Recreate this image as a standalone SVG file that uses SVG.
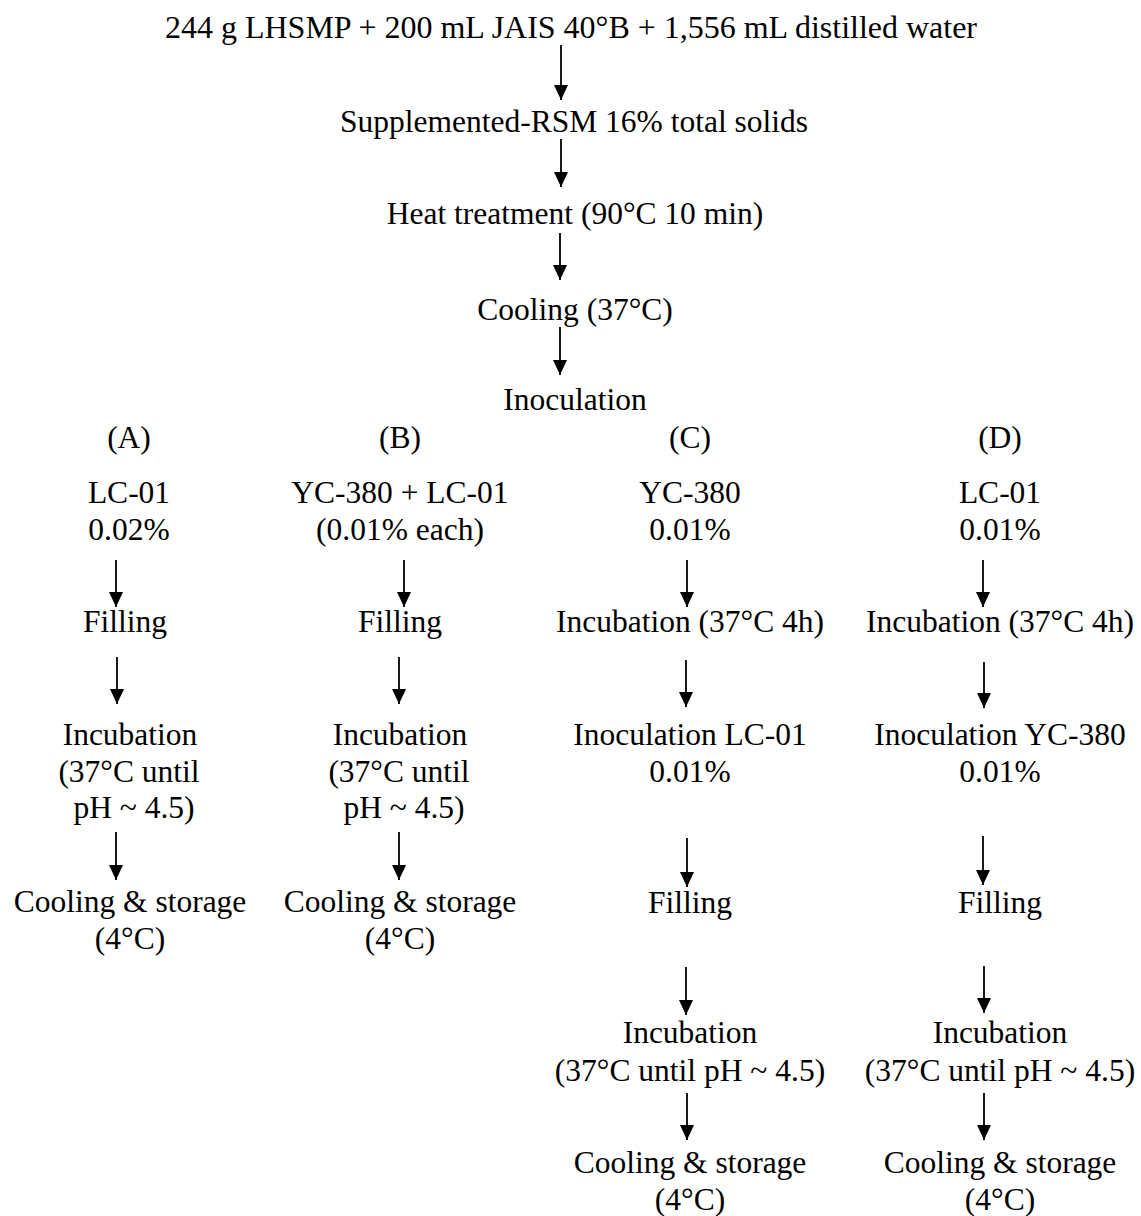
<svg xmlns="http://www.w3.org/2000/svg" width="1141" height="1216" viewBox="0 0 1141 1216">
<style>
text{font-family:"Liberation Serif","Times New Roman",serif;font-size:31.5px;fill:#000;text-anchor:middle}
.c line{stroke:#000;stroke-width:1.8;marker-end:url(#ah)}
</style>
<defs>
<marker id="ah" markerUnits="userSpaceOnUse" markerWidth="15" markerHeight="14" refX="15" refY="7" orient="auto" viewBox="0 0 15 14">
<path d="M0,0 L15,7 L0,14 z" fill="#000"/>
</marker>
</defs>
<rect width="1141" height="1216" fill="#fff"/>
<g id="n-start"><text x="571" y="38" textLength="812" lengthAdjust="spacingAndGlyphs">244 g LHSMP + 200 mL JAIS 40°B + 1,556 mL distilled water</text></g>
<g id="n-rsm"><text x="574" y="132">Supplemented-RSM 16% total solids</text></g>
<g id="n-heat"><text x="575" y="224">Heat treatment (90°C 10 min)</text></g>
<g id="n-cool"><text x="575" y="320">Cooling (37°C)</text></g>
<g id="n-inoc"><text x="575" y="410">Inoculation</text></g>
<g id="n-A"><text x="129" y="448">(A)</text><text x="129" y="503">LC-01</text><text x="129" y="540">0.02%</text></g>
<g id="n-B"><text x="400" y="448">(B)</text><text x="400" y="503">YC-380 + LC-01</text><text x="400" y="540">(0.01% each)</text></g>
<g id="n-C"><text x="690" y="448">(C)</text><text x="690" y="503">YC-380</text><text x="690" y="540">0.01%</text></g>
<g id="n-D"><text x="1000" y="448">(D)</text><text x="1000" y="503">LC-01</text><text x="1000" y="540">0.01%</text></g>
<g id="n-A-fill"><text x="125" y="632">Filling</text></g>
<g id="n-B-fill"><text x="400" y="632">Filling</text></g>
<g id="n-C-inc4"><text x="690" y="632">Incubation (37°C 4h)</text></g>
<g id="n-D-inc4"><text x="1000" y="632">Incubation (37°C 4h)</text></g>
<g id="n-A-inc"><text x="130" y="745">Incubation</text><text x="129" y="782">(37°C until</text><text x="134" y="818">pH ~ 4.5)</text></g>
<g id="n-B-inc"><text x="400" y="745">Incubation</text><text x="399" y="782">(37°C until</text><text x="404" y="818">pH ~ 4.5)</text></g>
<g id="n-C-inoc"><text x="690" y="745">Inoculation LC-01</text><text x="690" y="782">0.01%</text></g>
<g id="n-D-inoc"><text x="1000" y="745">Inoculation YC-380</text><text x="1000" y="782">0.01%</text></g>
<g id="n-A-store"><text x="130" y="912">Cooling &amp; storage</text><text x="130" y="949">(4°C)</text></g>
<g id="n-B-store"><text x="400" y="912">Cooling &amp; storage</text><text x="400" y="949">(4°C)</text></g>
<g id="n-C-fill"><text x="690" y="913">Filling</text></g>
<g id="n-D-fill"><text x="1000" y="913">Filling</text></g>
<g id="n-C-inc"><text x="690" y="1043">Incubation</text><text x="690" y="1081">(37°C until pH ~ 4.5)</text></g>
<g id="n-D-inc"><text x="1000" y="1043">Incubation</text><text x="1000" y="1081">(37°C until pH ~ 4.5)</text></g>
<g id="n-C-store"><text x="690" y="1173">Cooling &amp; storage</text><text x="690" y="1210">(4°C)</text></g>
<g id="n-D-store"><text x="1000" y="1173">Cooling &amp; storage</text><text x="1000" y="1210">(4°C)</text></g>
<g id="connectors" class="c">
<line x1="561" y1="45" x2="561" y2="100"/>
<line x1="561" y1="139" x2="561" y2="187"/>
<line x1="560" y1="233" x2="560" y2="280"/>
<line x1="560" y1="327" x2="560" y2="375"/>
<line x1="116" y1="560" x2="116" y2="607"/>
<line x1="404" y1="560" x2="404" y2="607"/>
<line x1="687" y1="560" x2="687" y2="607"/>
<line x1="983" y1="560" x2="983" y2="607"/>
<line x1="117" y1="657" x2="117" y2="704"/>
<line x1="399" y1="657" x2="399" y2="704"/>
<line x1="686" y1="660" x2="686" y2="707"/>
<line x1="984" y1="662" x2="984" y2="708"/>
<line x1="116" y1="832" x2="116" y2="880"/>
<line x1="399" y1="832" x2="399" y2="880"/>
<line x1="687" y1="838" x2="687" y2="887"/>
<line x1="983" y1="836" x2="983" y2="885"/>
<line x1="686" y1="967" x2="686" y2="1015"/>
<line x1="984" y1="966" x2="984" y2="1013"/>
<line x1="687" y1="1093" x2="687" y2="1140"/>
<line x1="984" y1="1093" x2="984" y2="1140"/>
</g>
</svg>
